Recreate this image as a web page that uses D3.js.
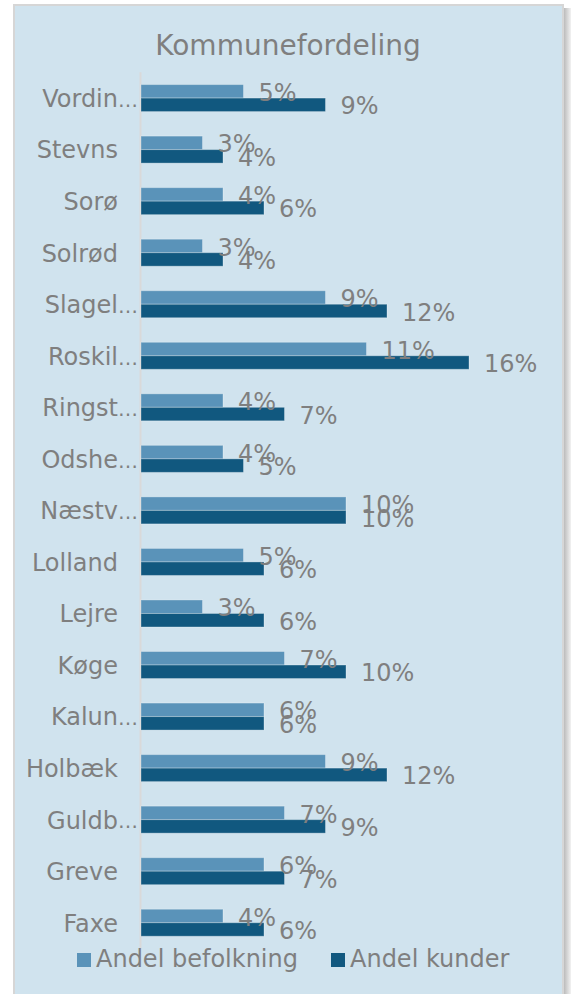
<!DOCTYPE html>
<html>
<head>
<meta charset="utf-8">
<script src="https://cdn.jsdelivr.net/npm/d3@7"></script>
<style>
  body { margin: 0; background: #fff; }
  svg { display: block; font-family: "DejaVu Sans", Verdana, sans-serif; }
</style>
</head>
<body>
<div id="chart"></div>
<script>
// Category labels as shown on the axis (Excel truncates long names with …)
const labels = [
	"Vordin…", "Stevns", "Sorø", "Solrød", "Slagel…", "Roskil…", "Ringst…", "Odshe…",
	"Næstv…", "Lolland", "Lejre", "Køge", "Kalun…", "Holbæk", "Guldb…", "Greve", "Faxe"
];
// Share of population, percent
const befolkning = [5, 3, 4, 3, 9, 11, 4, 4, 10, 5, 3, 7, 6, 9, 7, 6, 4];
// Share of customers, percent
const kunder = [9, 4, 6, 4, 12, 16, 7, 5, 10, 6, 6, 10, 6, 12, 9, 7, 6];

const seriesNames = ["Andel befolkning", "Andel kunder"];
const colors = ["#5a93b9", "#11587f"];
const textColor = "#7f7f7f";

const width = 571;
const height = 994;

const rows = labels.map((label, i) => ({ label, values: [befolkning[i], kunder[i]] }));

const svg = d3.select("#chart")
	.append("svg")
	.attr("width", width)
	.attr("height", height);

// Right-hand drop shadow of the chart frame
const grad = svg.append("defs")
	.append("linearGradient")
	.attr("id", "shadow")
	.attr("x1", 0).attr("x2", 1).attr("y1", 0).attr("y2", 0);
grad.append("stop").attr("offset", 0).attr("stop-color", "#b4b4b4");
grad.append("stop").attr("offset", 1).attr("stop-color", "#f2f2f2");

svg.append("rect")
	.attr("x", 563).attr("y", 8)
	.attr("width", 8).attr("height", height)
	.attr("fill", "url(#shadow)");

// Chart area
svg.append("rect")
	.attr("x", 14).attr("y", 5)
	.attr("width", 549).attr("height", height + 10)
	.attr("fill", "#d0e3ee")
	.attr("stroke", "#d6d6d6")
	.attr("stroke-width", 2);

// Title
svg.append("text")
	.attr("x", 288)
	.attr("y", 55)
	.attr("text-anchor", "middle")
	.attr("fill", textColor)
	.attr("font-size", 28)
	.text("Kommunefordeling");

// Scales
const x = d3.scaleLinear()
	.domain([0, 16])
	.range([141, 469]);

const y = d3.scaleBand()
	.domain(labels)
	.range([72.3, 948.5])
	.paddingInner(0.476)
	.paddingOuter(0.238);

const ySeries = d3.scaleBand()
	.domain([0, 1])
	.range([0, y.bandwidth()]);

// Category axis
const axis = svg.append("g")
	.attr("transform", `translate(${x(0)},0)`)
	.call(d3.axisLeft(y).tickSize(0).tickPadding(0).tickFormat(""));

axis.select(".domain")
	.attr("stroke", "#d9d9d9")
	.attr("stroke-width", 2)
	.attr("d", `M-0.5,${y.range()[0]}V${y.range()[1]}`);

const tickLabels = svg.append("g")
	.attr("fill", textColor)
	.attr("font-size", 24)
	.selectAll("text")
	.data(labels)
	.join("text")
	.attr("x", 118)
	.attr("y", (d) => y(d) + y.bandwidth() / 2)
	.attr("dy", "0.37em")
	.attr("text-anchor", "end")
	.text((d) => d.replace("…", ""));

// The ellipsis of truncated names hangs past the right edge of the name
svg.append("g")
	.attr("fill", textColor)
	.attr("font-size", 20)
	.selectAll("text")
	.data(labels.filter((d) => d.endsWith("…")))
	.join("text")
	.attr("x", 118)
	.attr("y", (d) => y(d) + y.bandwidth() / 2)
	.attr("dy", "0.44em")
	.text("…");

// Bars
const group = svg.append("g")
	.selectAll("g")
	.data(rows)
	.join("g")
	.attr("transform", (d) => `translate(0,${y(d.label)})`);

group.selectAll("rect")
	.data((d) => d.values)
	.join("rect")
	.attr("x", x(0))
	.attr("y", (d, i) => ySeries(i))
	.attr("width", (d) => x(d) - x(0))
	.attr("height", ySeries.bandwidth())
	.attr("fill", (d, i) => colors[i])
	.attr("stroke", "rgba(255,255,255,0.3)")
	.attr("stroke-width", 1);

// Data labels
group.selectAll("text")
	.data((d) => d.values)
	.join("text")
	.attr("x", (d) => x(d) + 15)
	.attr("y", (d, i) => ySeries(i) + ySeries.bandwidth() / 2)
	.attr("dy", "0.4em")
	.attr("fill", textColor)
	.attr("font-size", 24)
	.text((d) => `${d}%`);

// Legend
const legendX = [77, 331];
const legend = svg.append("g")
	.selectAll("g")
	.data(seriesNames)
	.join("g")
	.attr("transform", (d, i) => `translate(${legendX[i]},953)`);

legend.append("rect")
	.attr("width", 14)
	.attr("height", 14)
	.attr("fill", (d, i) => colors[i]);

legend.append("text")
	.attr("x", 19)
	.attr("y", 14)
	.attr("fill", textColor)
	.attr("font-size", 24)
	.text((d) => d);
</script>
</body>
</html>
